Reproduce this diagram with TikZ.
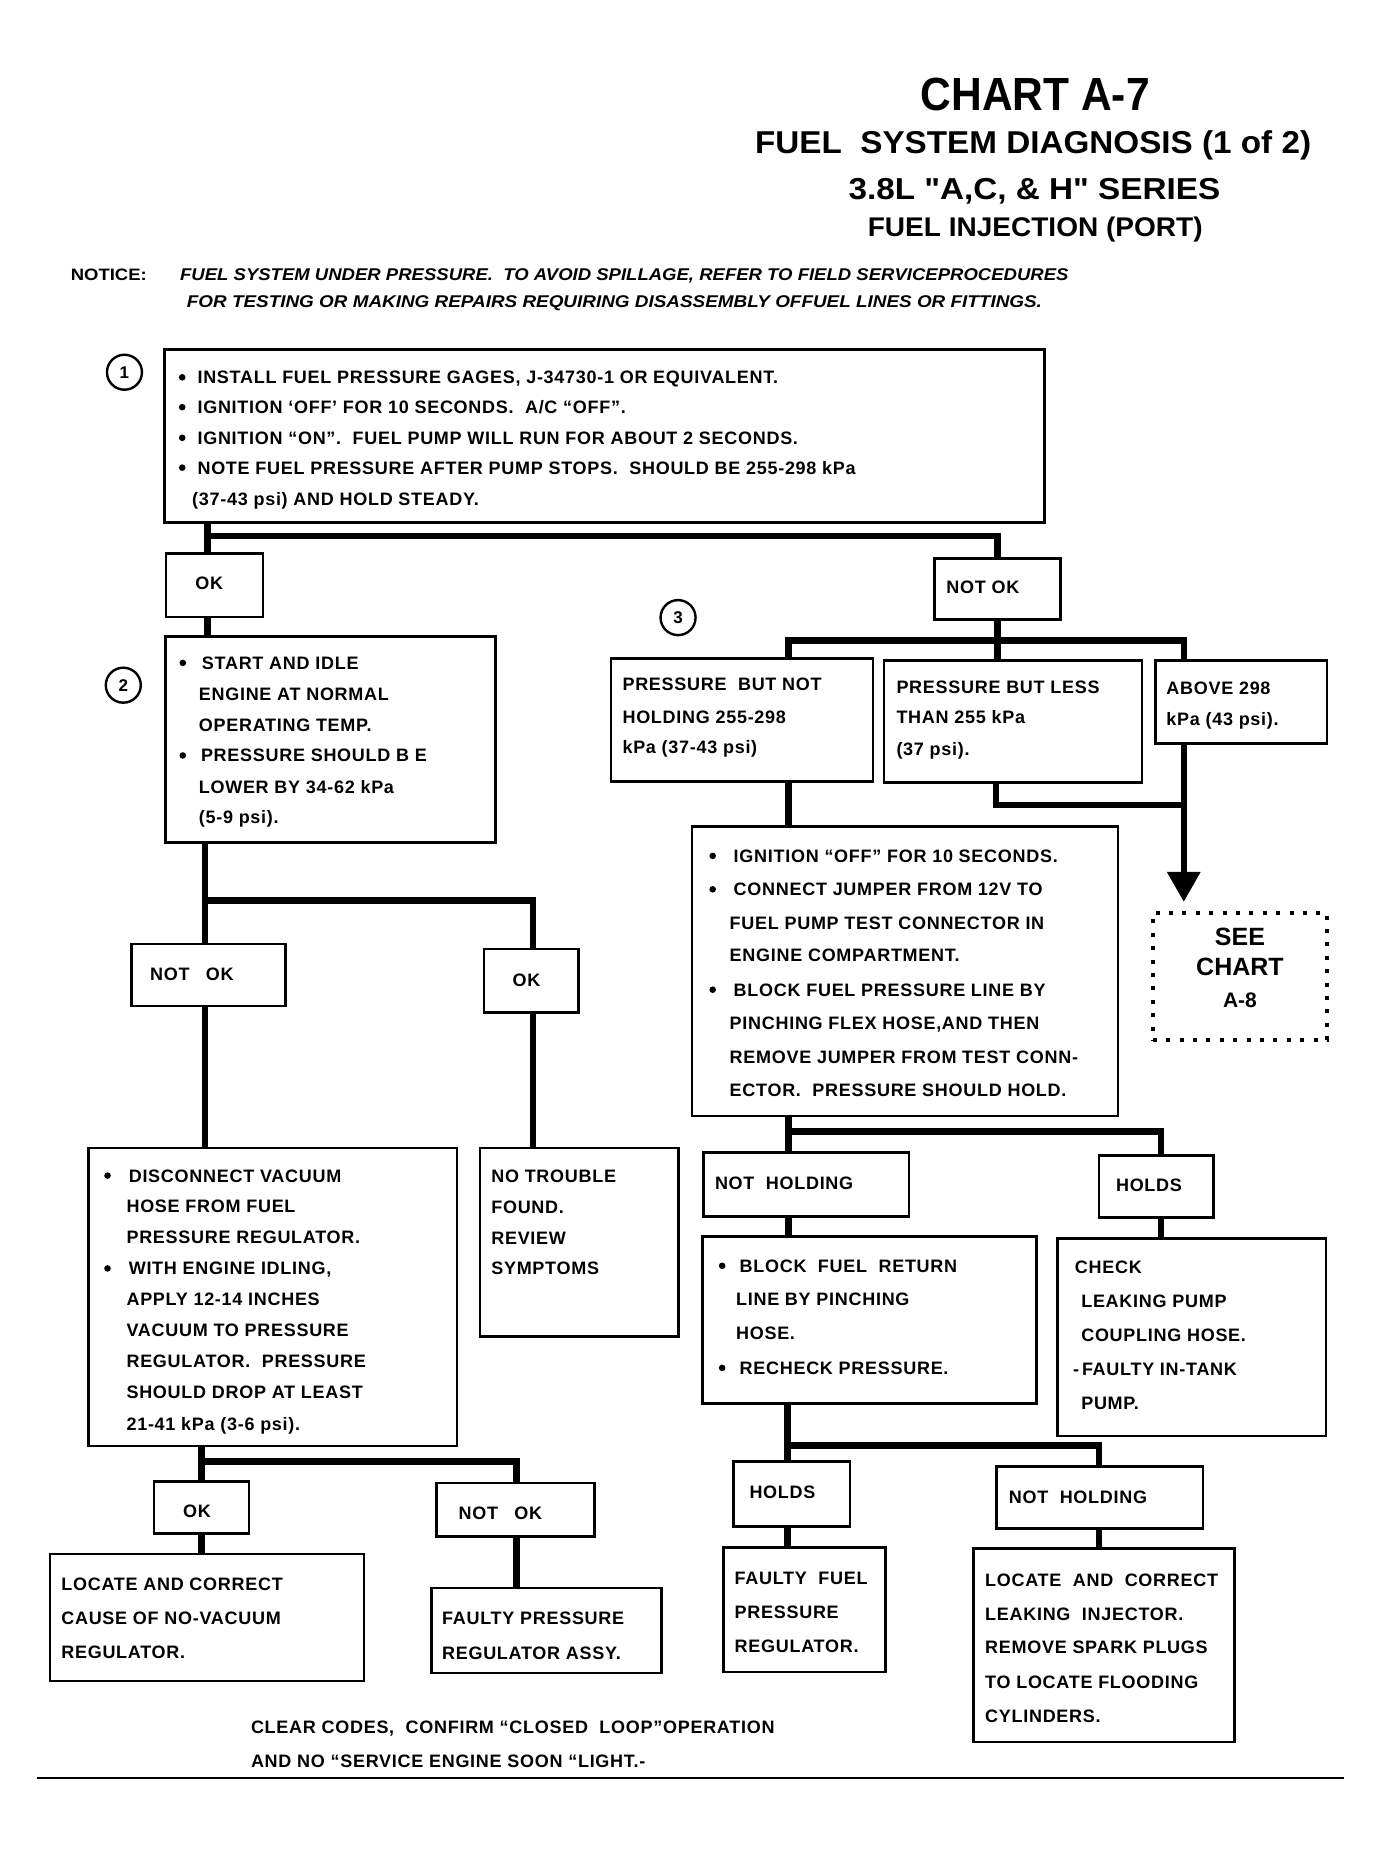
\documentclass[tikz,border=0pt]{standalone}
\usepackage{fontspec}
\usepackage{graphicx}
\setmainfont{Liberation Sans}
\newfontfamily\bodyf{Liberation Sans}[LetterSpace=4]
\newfontfamily\plainf{Liberation Sans}
\usetikzlibrary{arrows.meta}
\newsavebox\fitbox
\newcommand\fitw[2]{\sbox\fitbox{#2}\pgfmathsetmacro\fitsf{#1*1.1854/\the\wd\fitbox}\scalebox{\fitsf}[1]{\usebox\fitbox}}
\newcounter{tn}
\newcommand\tline[3]{\stepcounter{tn}\node[txt] (t\arabic{tn}) at (#1,{#2+5.44}) {#3};}
\newcommand\bulnode[2]{\stepcounter{tn}\node[bull] (t\arabic{tn}) at ({#1+2.7},{#2}) {};}
\newcommand\bx[6][box]{\node[#1, minimum width={(#5-#3)*1.1854pt}, minimum height={(#6-#4)*1.1854pt}] (#2) at ({(#3+#5)/2},{(#4+#6)/2}) {};}
\begin{document}
\begin{tikzpicture}[x=1.1854pt,y=-1.1854pt,
  box/.style={draw, line width=2.6pt, inner sep=0pt, outer sep=0pt},
  seebox/.style={draw, line width=4pt, dash pattern=on 4pt off 9.4pt, inner sep=0pt, outer sep=0pt},
  conn/.style={line width=6.5pt},
  txt/.style={font=\bodyf\bfseries\fontsize{18}{20}\selectfont, inner sep=0pt, anchor=base west},
  bull/.style={circle, fill, inner sep=0pt, minimum size=6.6pt},
  ttl/.style={inner sep=0pt, anchor=base, font=\plainf\bfseries},
  notice/.style={inner sep=0pt, anchor=base west, font=\plainf\bfseries\fontsize{16.5}{16.5}\selectfont},
  num/.style={draw, circle, line width=2.4pt, minimum size=35pt, inner sep=0pt, font=\plainf\bfseries\fontsize{17}{17}\selectfont},
  seet/.style={inner sep=0pt, anchor=base, font=\plainf\bfseries},
  rule/.style={line width=1.5pt}]
\useasboundingbox (0,0) rectangle (1165,1564);

% ---------- titles ----------
\node[ttl, font=\plainf\bfseries\fontsize{46.5}{46.5}\selectfont] (title1) at (873.3,92.8) {\fitw{193.3}{CHART A-7}};
\node[ttl, font=\plainf\bfseries\fontsize{31.6}{31.6}\selectfont] (title2) at (871.5,129.3) {\fitw{469}{FUEL\ \ SYSTEM DIAGNOSIS (1 of 2)}};
\node[ttl, font=\plainf\bfseries\fontsize{30.3}{30.3}\selectfont] (title3) at (872.6,168.7) {\fitw{313.6}{3.8L "A,C, \& H" SERIES}};
\node[ttl, font=\plainf\bfseries\fontsize{27}{27}\selectfont] (title4) at (873.3,199.7) {\fitw{282.5}{FUEL INJECTION (PORT)}};

% ---------- notice ----------
\node[notice] (nt0) at (59.6,236.7) {\fitw{64}{NOTICE:}};
\node[notice, font=\plainf\bfseries\itshape\fontsize{17}{17}\selectfont] (nt1) at (151.8,236.9) {\fitw{749.4}{FUEL SYSTEM UNDER PRESSURE.\ \ TO AVOID SPILLAGE, REFER TO FIELD SERVICEPROCEDURES}};
\node[notice, font=\plainf\bfseries\itshape\fontsize{17}{17}\selectfont] (nt2) at (157.5,259.4) {\fitw{721.3}{FOR TESTING OR MAKING REPAIRS REQUIRING DISASSEMBLY OFFUEL LINES OR FITTINGS.}};

% ---------- step circles ----------
\node[num] (c1) at (105,314) {1};
\node[num] (c2) at (104,578) {2};
\node[num] (c3) at (572,521) {3};

% ---------- boxes ----------
\bx{b1}{139}{295}{881.3}{441}
\bx{ok1}{140}{467}{222}{520.5}
\bx{nok1}{788.5}{471}{894.8}{522.7}
\bx{b2}{139.5}{537}{418}{710.5}
\bx{pbn}{515.5}{555.5}{736.5}{659}
\bx{pbl}{745.7}{557.4}{963.2}{660.2}
\bx{a298}{974.6}{557.4}{1119.5}{627.1}
\bx{ign}{583.7}{697}{943}{941.5}
\bx[seebox]{see}{972.5}{770}{1119.5}{877.4}
\bx{nok2}{111.1}{796.4}{241}{848.7}
\bx{ok2}{408.3}{800.6}{487.9}{854}
\bx{vac}{74.6}{968.5}{385.6}{1219.8}
\bx{ntf}{404.9}{968.5}{572.4}{1127.5}
\bx{ok3}{130}{1249.5}{210}{1293.8}
\bx{nok3}{368}{1251}{501.6}{1296}
\bx{loc1}{42.2}{1311}{307}{1418}
\bx{fpr}{363.8}{1339.6}{558}{1411.3}
\bx{nh1}{593.4}{972.2}{766.7}{1026.2}
\bx{hd1}{927}{974.7}{1023.6}{1027}
\bx{blk}{592.5}{1043.3}{874.5}{1184.2}
\bx{chk}{892.3}{1044.8}{1118.6}{1211.4}
\bx{hd2}{618.9}{1232.7}{717}{1287.6}
\bx{nh2}{840.6}{1237.2}{1014.9}{1289.4}
\bx{ffp}{610.3}{1305.4}{747}{1410.3}
\bx{loc2}{821.4}{1306.5}{1041.3}{1469.4}

% ---------- junctions ----------
\coordinate (J1) at (175,452);
\coordinate (J3L) at (665,540.4);
\coordinate (J3R) at (998.6,540.4);
\coordinate (J4) at (840,679);
\coordinate (tip) at (998.6,760.8);
\coordinate (J6) at (665,954.7);
\coordinate (J6R) at (979.5,954.7);
\coordinate (J8) at (664.2,1219.4);
\coordinate (J8R) at (927,1219.4);
\coordinate (J10) at (173,759.8);
\coordinate (J10R) at (449.5,759.8);
\coordinate (J12) at (170,1233);
\coordinate (J12R) at (435.5,1233);
\coordinate (rl) at (31,1500);
\coordinate (rr) at (1134,1500);

% ---------- connectors ----------
\draw[conn] (b1.south -| J1) -- (ok1.north -| J1);
\draw[conn] (J1) -| (nok1.north);
\draw[conn] (ok1.south -| J1) -- (b2.north -| J1);
\draw[conn] (nok1.south) -- (nok1.south |- pbl.north);
\draw[conn] (pbn.north -| J3L) -- (J3L) -- (J3R) -- (a298.north -| J3R);
\draw[conn] (pbl.south -| J4) -- (J4) -- (J4 -| J3R);
\draw[conn, -{Triangle[length=30pt,width=32pt]}] (a298.south -| tip) -- (tip);
\draw[conn] (pbn.south -| J3L) -- (ign.north -| J3L);
\draw[conn] (ign.south -| J6) -- (nh1.north -| J6);
\draw[conn] (J6) -- (J6R) -- (hd1.north -| J6R);
\draw[conn] (nh1.south -| J6) -- (blk.north -| J6);
\draw[conn] (hd1.south -| J6R) -- (chk.north -| J6R);
\draw[conn] (blk.south -| J8) -- (hd2.north -| J8);
\draw[conn] (J8) -- (J8R) -- (nh2.north -| J8R);
\draw[conn] (hd2.south -| J8) -- (ffp.north -| J8);
\draw[conn] (nh2.south -| J8R) -- (loc2.north -| J8R);
\draw[conn] (b2.south -| J10) -- (nok2.north -| J10);
\draw[conn] (J10) -- (J10R) -- (ok2.north -| J10R);
\draw[conn] (nok2.south -| J10) -- (vac.north -| J10);
\draw[conn] (ok2.south -| J10R) -- (ntf.north -| J10R);
\draw[conn] (vac.south -| J12) -- (ok3.north -| J12);
\draw[conn] (J12) -- (J12R) -- (nok3.north -| J12R);
\draw[conn] (ok3.south -| J12) -- (loc1.north -| J12);
\draw[conn] (nok3.south -| J12R) -- (fpr.north -| J12R);
\draw[rule] (rl) -- (rr);

% ---------- box 1 ----------
\bulnode{151}{318.3}\tline{166.5}{318.3}{INSTALL FUEL PRESSURE GAGES, J-34730-1 OR EQUIVALENT.}
\bulnode{151}{343.5}\tline{166.5}{343.5}{IGNITION ‘OFF’ FOR 10 SECONDS.\ \ A/C “OFF”.}
\bulnode{151}{369.3}\tline{166.5}{369.3}{IGNITION “ON”.\ \ FUEL PUMP WILL RUN FOR ABOUT 2 SECONDS.}
\bulnode{151}{394.5}\tline{166.5}{394.5}{NOTE FUEL PRESSURE AFTER PUMP STOPS.\ \ SHOULD BE 255-298 kPa}
\tline{162}{421}{(37-43 psi) AND HOLD STEADY.}

\tline{164.6}{492}{OK}
\tline{798.2}{495.2}{NOT OK}

% ---------- box 2 ----------
\bulnode{151.5}{559.2}\tline{170.2}{559.2}{START AND IDLE}
\tline{167.6}{585.6}{ENGINE AT NORMAL}
\tline{167.6}{611.4}{OPERATING TEMP.}
\bulnode{151.5}{637.3}\tline{169.4}{637.3}{PRESSURE SHOULD B E}
\tline{167.6}{663.7}{LOWER BY 34-62 kPa}
\tline{167.6}{689.6}{(5-9 psi).}

% ---------- step 3 boxes ----------
\tline{525}{577}{PRESSURE\ \ BUT NOT}
\tline{525}{604.5}{HOLDING 255-298}
\tline{525}{630}{kPa (37-43 psi)}
\tline{756.1}{579.2}{PRESSURE BUT LESS}
\tline{756.1}{605.2}{THAN 255 kPa}
\tline{756.1}{631.6}{(37 psi).}
\tline{983.8}{580}{ABOVE 298}
\tline{983.8}{606.4}{kPa (43 psi).}

% ---------- ignition box ----------
\bulnode{598.5}{722}\tline{618.8}{722}{IGNITION “OFF” FOR 10 SECONDS.}
\bulnode{598.5}{750.2}\tline{618.8}{750.2}{CONNECT JUMPER FROM 12V TO}
\tline{615.4}{778.5}{FUEL PUMP TEST CONNECTOR IN}
\tline{615.4}{806}{ENGINE COMPARTMENT.}
\bulnode{598.5}{834.9}\tline{618.8}{834.9}{BLOCK FUEL PRESSURE LINE BY}
\tline{615.4}{863.2}{PINCHING FLEX HOSE,AND THEN}
\tline{615.4}{891.4}{REMOVE JUMPER FROM TEST CONN-}
\tline{615.4}{919.7}{ECTOR.\ \ PRESSURE SHOULD HOLD.}

% ---------- see chart ----------
\node[seet, font=\plainf\bfseries\fontsize{25}{25}\selectfont] (s1) at (1046,797.5) {SEE};
\node[seet, font=\plainf\bfseries\fontsize{25}{25}\selectfont] (s2) at (1046,823) {CHART};
\node[seet, font=\plainf\bfseries\fontsize{21}{21}\selectfont] (s3) at (1046,849.5) {A-8};

% ---------- left middle ----------
\tline{126.5}{821.7}{NOT\hspace{0.9em}OK}
\tline{432.2}{826.7}{OK}
\bulnode{88}{991.7}\tline{108.5}{991.7}{DISCONNECT VACUUM}
\tline{106.6}{1017.2}{HOSE FROM FUEL}
\tline{106.6}{1043.6}{PRESSURE REGULATOR.}
\bulnode{88}{1070}\tline{108.5}{1070}{WITH ENGINE IDLING,}
\tline{106.6}{1095.5}{APPLY 12-14 INCHES}
\tline{106.6}{1121.8}{VACUUM TO PRESSURE}
\tline{106.6}{1148.1}{REGULATOR.\ \ PRESSURE}
\tline{106.6}{1174.5}{SHOULD DROP AT LEAST}
\tline{106.6}{1200.9}{21-41 kPa (3-6 psi).}
\tline{414.3}{991.7}{NO TROUBLE}
\tline{414.3}{1018}{FOUND.}
\tline{414.3}{1044.3}{REVIEW}
\tline{414.3}{1070}{SYMPTOMS}

\tline{154.4}{1274.8}{OK}
\tline{386.8}{1276}{NOT\hspace{0.9em}OK}
\tline{51.6}{1336.3}{LOCATE AND CORRECT}
\tline{51.6}{1365.2}{CAUSE OF NO-VACUUM}
\tline{51.6}{1393.7}{REGULATOR.}
\tline{372.8}{1364.8}{FAULTY PRESSURE}
\tline{372.8}{1394.4}{REGULATOR ASSY.}

% ---------- right lower ----------
\tline{603}{997.8}{NOT\ \ HOLDING}
\tline{941.3}{999.7}{HOLDS}
\bulnode{606.5}{1067.8}\tline{623.8}{1067.8}{BLOCK\ \ FUEL\ \ RETURN}
\tline{620.8}{1096.2}{LINE BY PINCHING}
\tline{620.8}{1124.4}{HOSE.}
\bulnode{606.5}{1153.9}\tline{623.8}{1153.9}{RECHECK PRESSURE.}
\tline{906.6}{1068.6}{CHECK}
\tline{912}{1097.8}{LEAKING PUMP}
\tline{912}{1126.2}{COUPLING HOSE.}
\tline{905}{1154.6}{-\,FAULTY IN-TANK}
\tline{912}{1183.4}{PUMP.}
\tline{632.1}{1258.8}{HOLDS}
\tline{850.9}{1262.6}{NOT\ \ HOLDING}
\tline{619.6}{1331.2}{FAULTY\ \ FUEL}
\tline{619.6}{1359.5}{PRESSURE}
\tline{619.6}{1388.7}{REGULATOR.}
\tline{830.9}{1332.6}{LOCATE\ \ AND\ \ CORRECT}
\tline{830.9}{1361.2}{LEAKING\ \ INJECTOR.}
\tline{830.9}{1389.8}{REMOVE SPARK PLUGS}
\tline{830.9}{1419}{TO LOCATE FLOODING}
\tline{830.9}{1447.5}{CYLINDERS.}

% ---------- footer ----------
\tline{211.6}{1457}{CLEAR CODES,\ \ CONFIRM “CLOSED\ \ LOOP”OPERATION}
\tline{211.6}{1485.6}{AND NO “SERVICE ENGINE SOON “LIGHT.-}
\end{tikzpicture}
\end{document}
